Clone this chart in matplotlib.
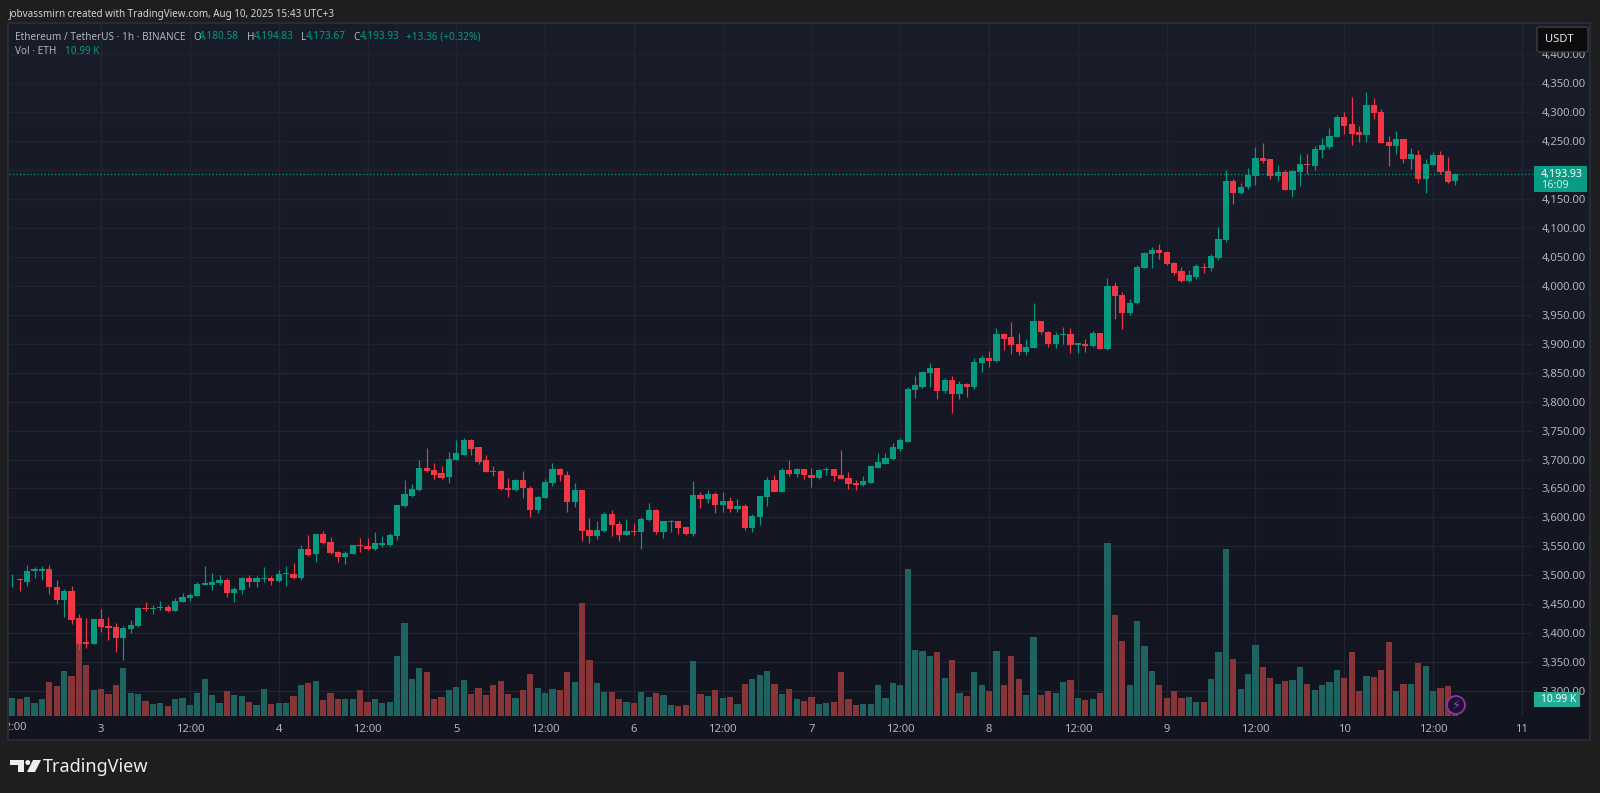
import numpy as np
import matplotlib
matplotlib.use("Agg")
import matplotlib.pyplot as plt
from matplotlib.patches import Rectangle, FancyBboxPatch, Circle, Polygon

opens = [3491,3493,3489,3507,3508,3510,3479,3457,3472,3426,3384,3382,3424,3412,3411,3392,3407,3412,3444,3442,3443,3445,3439,3454,3461,3465,3484,3484,3487,3492,3470,3474,3495,3488,3494,3496,3490,3502,3503,3495,3546,3536,3571,3557,3540,3532,3537,3552,3551,3545,3553,3553,3568,
 3620,3637,3647,3686,3682,3676,3669,3699,3708,3733,3721,3699,3680,3680,3651,3647,3665,3651,3612,3633,3659,3683,3674,3627,3647,3578,3568,3576,3605,3589,3570,3576,3575,3595,3613,3574,3592,3593,3583,3571,3638,3631,3640,3621,3628,3615,3620,3582,3601,3635,3665,
 3644,3682,3675,3683,3674,3668,3681,3683,3674,3668,3659,3656,3660,3686,3693,3701,3719,3731,3820,3826,3849,3858,3818,3837,3814,3830,3826,3867,3875,3870,3917,3911,3900,3886,3893,3939,3921,3900,3915,3917,3897,3900,3896,3919,3891,4000,3984,3953,
 3970,4031,4055,4062,4059,4040,4026,4008,4016,4033,4031,4049,4079,4182,4160,4170,4189,4221,4219,4189,4197,4166,4197,4211,4207,4235,4240,4257,4291,4279,4266,4261,4312,4301,4249,4242,4253,4219,4226,4185,4209,4226,4198.5,4180.58]
highs = [3503,3495,3518,3514,3516,3517,3492,3476,3481,3433,3427,3424,3442,3428,3418,3412,3423,3446,3453,3449,3456,3448,3461,3469,3469,3488,3516,3504,3500,3495,3479,3497,3500,3498,3514,3498,3509,3516,3522,3552,3570,3571,3576,3566,3542,3542,3553,3564,3564,3575,3567,3573,3621,
 3665,3658,3699,3720,3694,3689,3713,3734,3737,3735,3722,3708,3688,3681,3668,3667,3680,3655,3637,3666,3694,3686,3680,3659,3647,3599,3594,3609,3613,3594,3597,3591,3600,3624,3614,3594,3596,3594,3584,3663,3644,3648,3643,3644,3635,3631,3623,3605,3637,3669,3674,
 3685,3699,3686,3684,3685,3683,3687,3684,3716,3678,3665,3671,3689,3712,3711,3728,3737,3826,3844,3852,3866,3858,3841,3844,3835,3833,3876,3880,3887,3928,3919,3938,3919,3908,3970,3939,3922,3921,3929,3927,3902,3909,3922,3919,4014,4006,3989,3977,
 4036,4058,4067,4073,4060,4041,4033,4027,4038,4040,4055,4101,4200,4185,4177,4204,4240,4247,4220,4209,4200,4200,4228,4228,4242,4256,4273,4295,4300,4327,4276,4335,4325,4306,4259,4267,4253,4238,4235,4220,4232,4233,4223,4194.83]
lows = [3480,3473,3482,3496,3492,3468,3450,3428,3415,3373,3375,3382,3402,3388,3368,3354,3401,3411,3439,3433,3440,3437,3438,3454,3456,3464,3484,3475,3484,3463,3454,3468,3480,3480,3488,3483,3489,3482,3494,3491,3534,3523,3554,3536,3523,3520,3536,3541,3544,3544,3549,3551,3561,
 3618,3635,3646,3679,3666,3666,3660,3699,3708,3708,3693,3678,3672,3648,3635,3646,3634,3601,3608,3633,3655,3662,3609,3618,3559,3555,3563,3575,3567,3560,3570,3570,3546,3594,3571,3564,3574,3572,3570,3568,3616,3624,3608,3610,3610,3610,3579,3574,3587,3620,3643,
 3644,3672,3669,3666,3652,3666,3673,3663,3666,3649,3647,3654,3659,3685,3693,3700,3715,3730,3806,3823,3826,3804,3815,3780,3804,3808,3822,3851,3859,3868,3889,3882,3881,3881,3892,3916,3895,3892,3900,3884,3884,3886,3895,3891,3890,3943,3925,3950,
 3968,4031,4031,4046,4036,4019,4007,4007,4012,4023,4025,4045,4076,4142,4158,4167,4174,4213,4185,4181,4165,4153,4173,4193,4201,4221,4237,4257,4263,4243,4248,4249,4288,4246,4207,4227,4213,4202,4177,4160,4208,4193,4178,4173.67]
closes = [3492,3491,3508,3510,3511,3479,3457,3472,3423,3382,3382,3424,3410,3409,3392,3409,3414,3443,3441,3444,3445,3438,3455,3463,3466,3485,3487,3488,3492,3470,3477,3495,3488,3496,3496,3490,3502,3504,3495,3546,3535,3571,3555,3538,3532,3538,3552,3551,3546,3555,3555,3570,3621,
 3640,3649,3686,3680,3674,3668,3701,3711,3733,3719,3696,3679,3678,3649,3647,3665,3650,3612,3635,3661,3683,3673,3627,3647,3576,3568,3578,3605,3586,3570,3576,3575,3597,3613,3574,3593,3594,3582,3571,3638,3631,3640,3621,3628,3615,3620,3582,3603,3637,3665,3644,
 3682,3675,3683,3673,3668,3682,3684,3672,3666,3658,3656,3663,3688,3696,3703,3721,3733,3822,3828,3851,3858,3818,3837,3814,3830,3826,3868,3875,3870,3917,3909,3898,3886,3894,3939,3920,3900,3915,3917,3897,3901,3896,3919,3891,4000,3983,3953,3971,
 4033,4057,4062,4057,4037,4023,4008,4018,4034,4031,4051,4081,4182,4161,4171,4191,4221,4216,4189,4197,4165,4198,4211,4208,4236,4243,4259,4291,4276,4263,4260,4312,4299,4247,4242,4253,4219,4227,4185,4211,4226,4197,4180,4193.93]
volumes_k = [11.6,10.8,12.3,8.4,11.2,22.0,19.4,29.1,25.9,47.0,32.8,16.8,17.5,14.2,19.8,31.1,14.7,14.2,9.7,8.0,8.4,6.5,11.2,11.6,7.1,14.7,23.7,13.6,8.4,16.0,13.6,12.9,9.1,7.1,17.5,7.8,8.4,8.4,12.9,19.8,21.4,22.6,10.4,14.9,10.8,11.2,11.2,16.8,9.1,11.2,8.4,9.1,38.8,
 60.2,23.7,31.1,28.7,11.2,12.3,16.8,18.6,23.1,14.2,18.1,13.6,20.3,22.6,14.2,11.6,16.8,27.2,18.1,14.7,17.5,16.8,28.7,22.0,73.3,36.2,21.4,15.7,15.3,11.2,9.1,8.4,15.3,12.3,14.7,13.6,7.1,6.7,7.1,35.6,14.2,12.9,16.8,11.6,12.3,7.8,20.7,23.7,26.5,29.1,20.7,
 14.5,17.7,10.8,9.9,12.5,8.0,8.6,9.3,28.5,11.0,7.3,8.0,8.0,19.8,11.4,21.6,20.1,95.1,42.5,42.1,39.0,41.4,24.8,36.2,14.9,13.2,28.3,20.3,16.2,42.1,20.1,39.0,23.9,13.8,51.1,13.8,16.0,14.9,22.2,23.3,11.9,10.4,11.0,14.9,111.9,65.6,48.7,19.8,61.7,45.5,29.3,19.8,
 11.4,16.0,11.4,12.5,9.3,9.3,23.9,41.4,108.1,36.9,17.7,27.4,45.9,31.9,24.6,20.5,22.9,23.3,31.9,20.9,17.0,20.1,22.2,30.0,24.8,41.4,16.4,26.1,25.5,30.0,48.1,16.4,20.5,20.5,34.5,32.6,16.4,18.3,19.4,10.99]
tick_hours = [0,12,36,60,84,108,132,156,180,204, 24,48,72,96,120,144,168,192]
tick_text = ["12:00","3","4","5","6","7","8","9","10","11","12:00","12:00","12:00","12:00","12:00","12:00","12:00","12:00"]
price_ticks = list(range(3300, 4401, 50))
last_price = closes[-1]

W, H = 1600, 793
GREEN, RED = "#089981", "#F23645"
VGREEN, VRED = "#1f6360", "#883539"
TXT = "#b2b5be"
FONT = "Noto Sans"
plt.rcParams["font.family"] = [FONT, "DejaVu Sans"]

fig = plt.figure(figsize=(W/100, H/100), dpi=100, facecolor="#1e1e1e")
def box(x0, y0, x1, y1):
    return [x0/W, 1-y1/H, (x1-x0)/W, (y1-y0)/H]
def fx(x): return x/W
def fy(y): return 1-y/H
def put(x, y, s, color=TXT, size=7.2, ha="left", weight="normal", z=20):
    return fig.text(fx(x), fy(y), s, color=color, fontsize=size, ha=ha, va="center", fontweight=weight, zorder=z)

# pane background with the soft vertical gradient
bg = fig.add_axes(box(8, 23, 1590, 740), zorder=0)
grad = np.linspace(0, 1, 256)[:, None, None]
top, bot = np.array([25, 29, 42])/255, np.array([18, 21, 32])/255
bg.imshow(top*(1-grad)+bot*grad, aspect="auto", extent=(0, 1, 0, 1))
bg.set_xticks([]); bg.set_yticks([])
for s in bg.spines.values():
    s.set_color("#2b2e38"); s.set_linewidth(1.2)

ax = fig.add_axes(box(9, 24, 1533, 716), zorder=2)
ax.patch.set_alpha(0)
x = np.arange(len(closes))
ax.set_xlim((9-12.3)/7.4, (1533-12.3)/7.4)
ax.set_ylim(4350-(716-83.3)*1.7278, 4350+(83.3-24)*1.7278)

is_up = np.array(closes) >= np.array(opens)
cols = [GREEN if u else RED for u in is_up]
vcols = [VGREEN if u else VRED for u in is_up]

ax.set_yticks(price_ticks)
ax.set_yticklabels([f"{p:,.2f}" for p in price_ticks], color=TXT, fontsize=8.1)
ax.yaxis.tick_right()
ax.tick_params(axis="y", length=0, pad=6)
ax.set_xticks(tick_hours[1:])
ax.set_xticklabels(tick_text[1:], color=TXT, fontsize=8.1)
ax.tick_params(axis="x", length=0, pad=6)
ax.grid(True, color="#20242f", linewidth=1, zorder=0)
ax.set_axisbelow(True)
for s in ax.spines.values():
    s.set_visible(False)

# volume pane shares the box with the price pane
vax = fig.add_axes(box(9, 24, 1533, 716), zorder=3, sharex=ax)
vax.patch.set_alpha(0)
vax.set_ylim(0, 692*0.647)
vax.bar(x, volumes_k, width=0.86, color=vcols, linewidth=0)
vax.axis("off")

# candles on top
cax = fig.add_axes(box(9, 24, 1533, 716), zorder=4, sharex=ax, sharey=ax)
cax.patch.set_alpha(0)
cax.vlines(x, lows, highs, colors=cols, linewidth=0.85)
bott = np.minimum(opens, closes)
hts = np.maximum(np.abs(np.array(closes)-np.array(opens)), 1.4)
cax.bar(x, hts, bottom=bott, width=0.84, color=cols, linewidth=0)
cax.axhline(last_price, color=GREEN, linewidth=0.9, linestyle=(0, (1, 1.8)))
cax.axis("off")

# clipped first time label at the left edge
t = fig.text(fx(12.3), fy(728), tick_text[0], color=TXT, fontsize=8.1, ha="center", va="center", zorder=20)
t.set_clip_on(True)
t.set_clip_box(matplotlib.transforms.Bbox([[9, 0], [1600, 793]]))

# header and legend
put(9, 14, "jobvassmirn created with TradingView.com, Aug 10, 2025 15:43 UTC+3", color="#d1d4dc", size=7.1, weight="semibold")
put(15, 37, "Ethereum / TetherUS · 1h · BINANCE")
for px, s in [(193, "O"), (247, "H"), (301, "L"), (353, "C")]:
    put(px, 37, s)
for px, s in [(199, "4,180.58"), (254, "4,194.83"), (306, "4,173.67"), (360, "4,193.93"), (406, "+13.36 (+0.32%)")]:
    put(px, 37, s, color=GREEN)
put(15, 51.5, "Vol · ETH")
put(65, 51.5, "10.99 K", color=GREEN)

# USDT button
fig.patches.append(FancyBboxPatch((fx(1537), fy(52)), 51/W, 25/H, boxstyle="round,pad=0,rounding_size=0.002",
                                  mutation_aspect=H/W*2, transform=fig.transFigure, fc="#0c0c0e", ec="#3c3e44", lw=1, zorder=15))
put(1545, 40, "USDT", color="#e8e8ea", size=8)

# last price and volume labels
fig.patches.append(Rectangle((fx(1534), fy(192)), 53/W, 26/H, transform=fig.transFigure, fc="#0a9b84", ec="none", zorder=15))
put(1541, 174, "4,193.93", color="white", size=7.6, weight="bold")
put(1541, 186, "16:09", color="#c9ebe3", size=7.8)
fig.patches.append(Rectangle((fx(1534), fy(707)), 46/W, 15/H, transform=fig.transFigure, fc="#22ab94", ec="none", zorder=15))
put(1541, 700, "10.99 K", color="white", size=7.4, weight="bold")

# lightning badge
c = Circle((14.56, (H-705)/100), 0.09, transform=fig.dpi_scale_trans, fc="#15182a", ec="#9c2bb0", lw=1.3, zorder=16)
fig.patches.append(c)
fig.text(fx(1456), fy(705), "\u26a1", family="DejaVu Sans", color="#b03cc8", fontsize=9, ha="center", va="center", zorder=17)

# TradingView logo
def poly(points):
    fig.patches.append(Polygon([(fx(a), fy(b)) for a, b in points], closed=True, transform=fig.transFigure,
                               fc="#eeeeee", ec="none", zorder=15))
poly([(10, 760), (23.5, 760), (23.5, 772), (18, 772), (18, 765), (10, 765)])
fig.patches.append(Circle((0.278, (H-762.5)/100), 0.025, transform=fig.dpi_scale_trans, fc="#eeeeee", ec="none", zorder=15))
poly([(33, 760), (41, 760), (35, 772), (27, 772)])
put(43, 766.5, "TradingView", color="#eeeeee", size=13, weight="bold")

fig.savefig("out.png", dpi=100, facecolor=fig.get_facecolor())
